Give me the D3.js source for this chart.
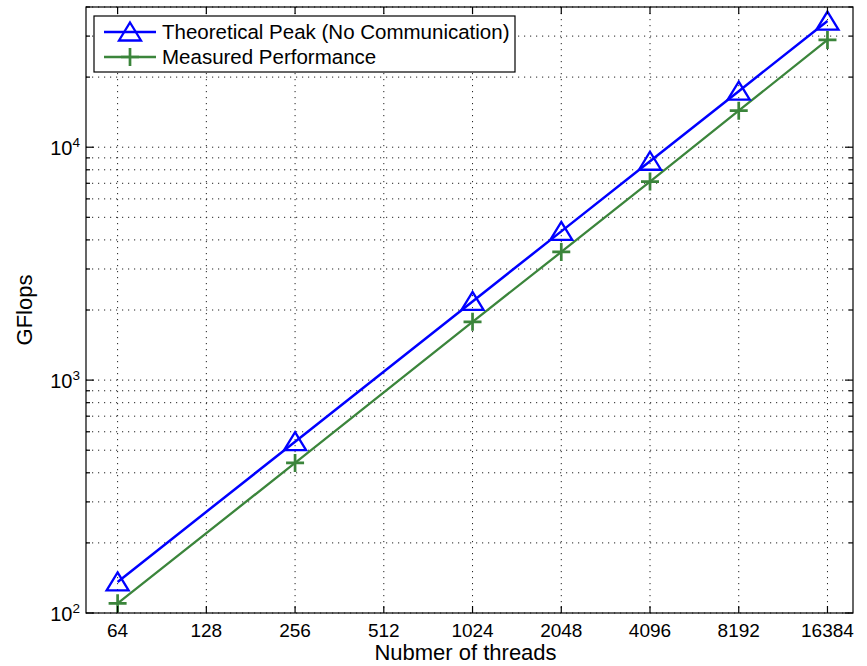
<!DOCTYPE html>
<html>
<head>
<meta charset="utf-8">
<script src="https://cdn.jsdelivr.net/npm/d3@7"></script>
<style>
    body { margin: 0; background: #fff; }
    svg { display: block; font-family: "Liberation Sans", Arial, Helvetica, sans-serif; }
    .tick-label { font-size: 19px; fill: #000; }
    .axis-title { font-size: 22px; fill: #000; text-anchor: middle; }
    .legend-text { font-size: 20.5px; fill: #000; }
    .grid line { stroke: #222; stroke-width: 1; stroke-dasharray: 1.2, 4.8; }
</style>
</head>
<body>
<svg id="chart" width="867" height="666"></svg>
<script>
// data
const threads = [64, 256, 1024, 2048, 4096, 8192, 16384];
const theoreticalPeak = [136, 544, 2176, 4352, 8704, 17408, 34816];
const measuredPerf = [110, 441, 1780, 3550, 7120, 14350, 28900];

const xTickValues = [64, 128, 256, 512, 1024, 2048, 4096, 8192, 16384];
const yTickValues = [100, 1000, 10000];
const yTickExponents = ['2', '3', '4'];
const xDomain = [50, 20000];
const yDomain = [100, 40000];

const seriesNames = ['Theoretical Peak (No Communication)', 'Measured Performance'];

/**
 * Log-log line chart, MATLAB look
 */
class LogLineChart {

    constructor(_config) {
        this.config = {
            parentElement: _config.parentElement,
            containerWidth: _config.containerWidth || 867,
            containerHeight: _config.containerHeight || 666,
            margin: _config.margin || { top: 7, right: 14, bottom: 53, left: 86 },
        }
        this.initVis();
    }

    initVis() {
        let vis = this;

        vis.width = vis.config.containerWidth - vis.config.margin.left - vis.config.margin.right;
        vis.height = vis.config.containerHeight - vis.config.margin.top - vis.config.margin.bottom;

        vis.xScale = d3.scaleLog().base(2).domain(xDomain).range([0, vis.width]);
        vis.yScale = d3.scaleLog().domain(yDomain).range([vis.height, 0]);

        vis.svg = d3.select(vis.config.parentElement);

        vis.chart = vis.svg.append('g')
            .attr('transform', `translate(${vis.config.margin.left},${vis.config.margin.top})`);

        // minor y ticks 2..9 per decade
        vis.yMinor = [];
        for (let dec = 100; dec < yDomain[1]; dec *= 10) {
            for (let m = 2; m <= 9; m++) {
                if (dec * m <= yDomain[1]) vis.yMinor.push(dec * m);
            }
        }

        vis.renderVis();
    }

    renderVis() {
        let vis = this;
        const W = vis.width, H = vis.height;

        // gridlines
        const grid = vis.chart.append('g').attr('class', 'grid');
        grid.selectAll('.gx').data(xTickValues).enter().append('line')
            .attr('x1', d => vis.xScale(d)).attr('x2', d => vis.xScale(d))
            .attr('y1', 0).attr('y2', H);
        grid.selectAll('.gy').data(yTickValues.concat(vis.yMinor)).enter().append('line')
            .attr('y1', d => vis.yScale(d)).attr('y2', d => vis.yScale(d))
            .attr('x1', 0).attr('x2', W);

        // lines
        const line = d3.line()
            .x(d => vis.xScale(d[0]))
            .y(d => vis.yScale(d[1]));

        const peakPts = threads.map((t, i) => [t, theoreticalPeak[i]]);
        const measPts = threads.map((t, i) => [t, measuredPerf[i]]);

        vis.chart.append('path')
            .datum(measPts)
            .attr('d', line)
            .attr('fill', 'none')
            .attr('stroke', '#3b853b')
            .attr('stroke-width', 2.3);

        vis.chart.append('path')
            .datum(peakPts)
            .attr('d', line)
            .attr('fill', 'none')
            .attr('stroke', '#0000ff')
            .attr('stroke-width', 2.5);

        // markers
        vis.chart.selectAll('.tri').data(peakPts).enter().append('path')
            .attr('class', 'tri')
            .attr('d', vis.triangle())
            .attr('transform', d => `translate(${vis.xScale(d[0])},${vis.yScale(d[1])})`)
            .attr('fill', 'none').attr('stroke', '#0000ff').attr('stroke-width', 2.3);

        vis.chart.selectAll('.plus').data(measPts).enter().append('path')
            .attr('class', 'plus')
            .attr('d', vis.plus())
            .attr('transform', d => `translate(${vis.xScale(d[0])},${vis.yScale(d[1])})`)
            .attr('fill', 'none').attr('stroke', '#3b853b').attr('stroke-width', 2.7);

        // box
        vis.chart.append('rect')
            .attr('width', W).attr('height', H)
            .attr('fill', 'none').attr('stroke', '#000').attr('stroke-width', 1.2);

        // ticks (inward, on all sides)
        const ticks = vis.chart.append('g').attr('stroke', '#000').attr('stroke-width', 1.2);
        xTickValues.forEach(d => {
            const x = vis.xScale(d);
            ticks.append('line').attr('x1', x).attr('x2', x).attr('y1', H).attr('y2', H - 7);
            ticks.append('line').attr('x1', x).attr('x2', x).attr('y1', 0).attr('y2', 7);
        });
        yTickValues.forEach(d => {
            const y = vis.yScale(d);
            ticks.append('line').attr('x1', 0).attr('x2', 8).attr('y1', y).attr('y2', y);
            ticks.append('line').attr('x1', W).attr('x2', W - 8).attr('y1', y).attr('y2', y);
        });
        vis.yMinor.forEach(d => {
            const y = vis.yScale(d);
            ticks.append('line').attr('x1', 0).attr('x2', 4).attr('y1', y).attr('y2', y);
            ticks.append('line').attr('x1', W).attr('x2', W - 4).attr('y1', y).attr('y2', y);
        });

        // tick labels
        vis.chart.selectAll('.xl').data(xTickValues).enter().append('text')
            .attr('class', 'tick-label')
            .attr('x', d => vis.xScale(d))
            .attr('y', H + 24)
            .attr('text-anchor', 'middle')
            .text(d => d);

        const yl = vis.chart.selectAll('.yl').data(yTickValues).enter().append('text')
            .attr('class', 'tick-label')
            .attr('x', -6)
            .attr('y', d => vis.yScale(d) + 8)
            .attr('text-anchor', 'end');
        yl.append('tspan').style('font-size', '20px').text('10');
        yl.append('tspan')
            .attr('dy', -8)
            .style('font-size', '13.5px')
            .text((d, i) => yTickExponents[i]);

        // axis titles
        vis.chart.append('text')
            .attr('class', 'axis-title')
            .attr('x', W / 2 - 4)
            .attr('y', H + 47)
            .text('Nubmer of threads');

        vis.chart.append('text')
            .attr('class', 'axis-title')
            .attr('transform', `translate(${-54},${H / 2}) rotate(-90)`)
            .text('GFlops');

        // legend
        const lg = vis.chart.append('g').attr('transform', 'translate(8,9)');
        lg.append('rect')
            .attr('width', 421).attr('height', 56)
            .attr('fill', '#fff').attr('stroke', '#000').attr('stroke-width', 1.2);

        const colors = ['#0000ff', '#3b853b'];
        const markers = [vis.triangle(), vis.plus()];
        seriesNames.forEach((name, i) => {
            const y = 16 + i * 25;
            lg.append('line')
                .attr('x1', 10).attr('x2', 62).attr('y1', y).attr('y2', y)
                .attr('stroke', colors[i]).attr('stroke-width', i === 0 ? 2.5 : 2.3);
            lg.append('path')
                .attr('d', markers[i])
                .attr('transform', `translate(36,${y})`)
                .attr('fill', 'none').attr('stroke', colors[i]).attr('stroke-width', i === 0 ? 2.3 : 2.7);
            lg.append('text')
                .attr('class', 'legend-text')
                .attr('x', 68)
                .attr('y', y + 7)
                .text(name);
        });
    }

    triangle() {
        return 'M0,-9.5L11,8.5L-11,8.5Z';
    }

    plus() {
        return 'M-9,0L9,0M0,-9L0,9';
    }
}

new LogLineChart({ parentElement: '#chart' });
</script>
</body>
</html>
